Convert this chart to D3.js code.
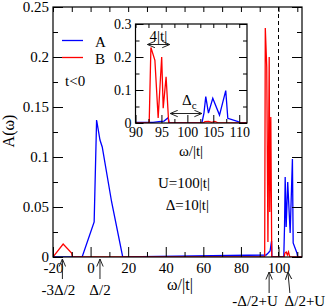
<!DOCTYPE html>
<html>
<head>
<meta charset="utf-8">
<script src="https://cdn.jsdelivr.net/npm/d3@7"></script>
<style>
body { margin: 0; background: #fff; }
text { font-family: "Liberation Serif", "Times New Roman", serif; fill: #000; }
</style>
</head>
<body>
<div id="chart"></div>
<script>
// spectral function, site A (blue) and site B (red)
const omegaA = [-20, -4.5, 1.9, 3.2, 5.0, 6.2, 11.2, 17.1, 93.4, 94.5, 95.5, 96.3, 96.5,
    102.8, 103.2, 103.55, 104.07, 104.9, 106.2, 107.4, 107.8, 109.8, 110.2, 112.5];
const valueA = [0, 0, 0.035, 0.137, 0.117, 0.11, 0.055, 0, 0.002, 0.004, 0.006, 0.016, 0,
    0, 0.03, 0.08, 0.03, 0.075, 0.024, 0.098, 0.014, 0.004, 0, 0];

const omegaB = [-20, -14.6, -10.1, -9.6, 92.64, 92.97, 93.74, 94.37, 95.05, 95.34, 95.9, 96.4,
    103.0, 103.4, 104.1, 104.7, 105.3, 106.0, 112.5];
const valueB = [0, 0.013, 0.004, 0, 0, 0.229, 0.19, 0.015, 0.2, 0.045, 0.14, 0,
    0, 0.004, 0.005, 0.002, 0.005, 0, 0];

const mainXTicks = [-20, 0, 20, 40, 60, 80, 100];
const mainYTicks = [0, 0.05, 0.1, 0.15, 0.2, 0.25];
const insetXTicks = [90, 95, 100, 105, 110];
const insetYTicks = [0, 0.1, 0.2, 0.3];

const seriesNames = ['A', 'B'];
const seriesColors = ['#0000ff', '#ff0000'];

const width = 327, height = 308;
const svg = d3.select('#chart')
    .append('svg')
    .attr('width', width)
    .attr('height', height);

svg.append('rect').attr('width', width).attr('height', height).attr('fill', '#fff');

const defs = svg.append('defs');
defs.append('marker')
    .attr('id', 'head')
    .attr('viewBox', '0 0 8 8')
    .attr('refX', 7.5).attr('refY', 4)
    .attr('markerWidth', 8).attr('markerHeight', 8)
    .attr('markerUnits', 'userSpaceOnUse')
    .attr('orient', 'auto-start-reverse')
    .append('path')
    .attr('d', 'M0,0.8L7.5,4L0,7.2')
    .attr('fill', 'none')
    .attr('stroke', '#222')
    .attr('stroke-width', 1);

const seriesA = omegaA.map((w, i) => ({w: w, v: valueA[i]}));
const seriesB = omegaB.map((w, i) => ({w: w, v: valueB[i]}));

// draws a boxed panel with inward ticks on all four sides
function panel(g, x, y, o) {
    const [x0, x1] = x.range();
    const [y0, y1] = y.range();

    g.append('g')
        .attr('transform', 'translate(0,' + y0 + ')')
        .call(d3.axisBottom(x).tickValues(o.xTicks).tickSize(-o.major).tickPadding(o.padX)
            .tickFormat(d => String(d)));
    g.append('g')
        .attr('transform', 'translate(0,' + y0 + ')')
        .call(d3.axisBottom(x).tickValues(o.xMinor).tickSize(-o.minor).tickFormat(''));
    g.append('g')
        .attr('transform', 'translate(0,' + y1 + ')')
        .call(d3.axisTop(x).tickValues(o.xTicks.concat(o.xMinor)).tickSize(-o.minor).tickFormat(''));

    g.append('g')
        .attr('transform', 'translate(' + x0 + ',0)')
        .call(d3.axisLeft(y).tickValues(o.yTicks).tickSize(-o.major).tickPadding(o.padY)
            .tickFormat(d => String(d)));
    g.append('g')
        .attr('transform', 'translate(' + x0 + ',0)')
        .call(d3.axisLeft(y).tickValues(o.yMinor).tickSize(-o.minor).tickFormat(''));
    g.append('g')
        .attr('transform', 'translate(' + x1 + ',0)')
        .call(d3.axisRight(y).tickValues(o.yTicks).tickSize(-o.major).tickFormat(''));
    g.append('g')
        .attr('transform', 'translate(' + x1 + ',0)')
        .call(d3.axisRight(y).tickValues(o.yMinor).tickSize(-o.minor).tickFormat(''));

    g.selectAll('.domain').remove();
    g.selectAll('.tick line').attr('stroke', '#000');
    g.selectAll('.tick text')
        .attr('font-family', '"Liberation Serif", serif')
        .attr('font-size', o.font)
        .attr('fill', '#000');

    g.append('rect')
        .attr('x', x0).attr('y', y1)
        .attr('width', x1 - x0).attr('height', y0 - y1)
        .attr('fill', 'none')
        .attr('stroke', '#000')
        .attr('stroke-width', 1.2);
}

function drawLines(g, x, y, clipId) {
    const line = d3.line().x(d => x(d.w)).y(d => y(d.v));
    const lines = g.append('g').attr('clip-path', 'url(#' + clipId + ')');
    [seriesA, seriesB].forEach((s, i) => {
        lines.append('path')
            .datum(s)
            .attr('d', line)
            .attr('fill', 'none')
            .attr('stroke', seriesColors[i])
            .attr('stroke-width', 1.3);
    });
}

function clip(id, x, y) {
    defs.append('clipPath').attr('id', id)
        .append('rect')
        .attr('x', x.range()[0]).attr('y', y.range()[1])
        .attr('width', x.range()[1] - x.range()[0])
        .attr('height', y.range()[0] - y.range()[1]);
}

function arrow(g, x1, y1, x2, y2, both) {
    const a = g.append('line')
        .attr('x1', x1).attr('y1', y1).attr('x2', x2).attr('y2', y2)
        .attr('stroke', '#222')
        .attr('stroke-width', 1)
        .attr('marker-end', 'url(#head)');
    if (both) a.attr('marker-start', 'url(#head)');
}

function label(g, x, y, txt, size, anchor) {
    return g.append('text')
        .attr('x', x).attr('y', y)
        .attr('font-size', size)
        .attr('text-anchor', anchor || 'middle')
        .text(txt);
}

// main panel
const xScale = d3.scaleLinear().domain([-20, 112.5]).range([53, 302]);
const yScale = d3.scaleLinear().domain([0, 0.25]).range([257, 7]);

const main = svg.append('g');
clip('clipMain', xScale, yScale);

main.append('line')
    .attr('x1', xScale(100)).attr('x2', xScale(100))
    .attr('y1', yScale(0.25)).attr('y2', yScale(0))
    .attr('stroke', '#000')
    .attr('stroke-width', 1)
    .attr('stroke-dasharray', '4,3');

drawLines(main, xScale, yScale, 'clipMain');

panel(main, xScale, yScale, {
    xTicks: mainXTicks, xMinor: [-10, 10, 30, 50, 70, 90, 110],
    yTicks: mainYTicks, yMinor: [0.025, 0.075, 0.125, 0.175, 0.225],
    major: 10, minor: 5, padX: 5, padY: 4, font: 15
});

main.append('text')
    .attr('transform', 'translate(14,131) rotate(-90)')
    .attr('text-anchor', 'middle')
    .attr('font-size', 16)
    .text('A(ω)');
label(main, 180, 290, 'ω/|t|', 16);

// legend
seriesNames.forEach((name, i) => {
    main.append('line')
        .attr('x1', 62).attr('x2', 83)
        .attr('y1', 40.5 + i * 17).attr('y2', 40.5 + i * 17)
        .attr('stroke', seriesColors[i])
        .attr('stroke-width', 1.3);
    label(main, 95, 46.5 + i * 17, name, 15, 'start');
});
label(main, 65, 86, 't<0', 15, 'start');
label(main, 210, 188, 'U=100|t|', 15, 'end');
label(main, 209, 210, 'Δ=10|t|', 15, 'end');

// marked energies under the axis
arrow(main, xScale(-15), 279, xScale(-15), 259);
arrow(main, xScale(5), 279, xScale(5), 259);
label(main, xScale(-15) - 4, 295, '-3Δ/2', 15);
label(main, xScale(5), 295, 'Δ/2', 15);
arrow(main, xScale(95), 293, xScale(95), 272);
arrow(main, xScale(105) + 2, 293, xScale(105), 272);
label(main, xScale(95) - 14, 306, '-Δ/2+U', 15);
label(main, xScale(105) + 17, 306, 'Δ/2+U', 15);

// inset zoom on the upper bands
const xInset = d3.scaleLinear().domain([90, 111.5]).range([135.5, 247]);
const yInset = d3.scaleLinear().domain([0, 0.3]).range([123, 24]);

const inset = svg.append('g');
clip('clipInset', xInset, yInset);
inset.append('rect')
    .attr('x', 135.5).attr('y', 24)
    .attr('width', 247 - 135.5).attr('height', 123 - 24)
    .attr('fill', '#fff');

drawLines(inset, xInset, yInset, 'clipInset');

panel(inset, xInset, yInset, {
    xTicks: insetXTicks, xMinor: [92.5, 97.5, 102.5, 107.5],
    yTicks: insetYTicks, yMinor: [0.05, 0.15, 0.25],
    major: 8, minor: 4, padX: 4, padY: 4, font: 14
});
label(inset, 191, 156, 'ω/|t|', 15);

arrow(inset, xInset(92.3), 44.5, xInset(96.6), 44.5, true);
label(inset, xInset(94.4), 41, '4|t|', 15);
arrow(inset, xInset(96.7), 113.5, xInset(102.8), 113.5, true);
const dc = label(inset, 182, 105, 'Δ', 15, 'start');
dc.append('tspan').attr('dy', 4).attr('font-size', 11).text('c');
</script>
</body>
</html>
